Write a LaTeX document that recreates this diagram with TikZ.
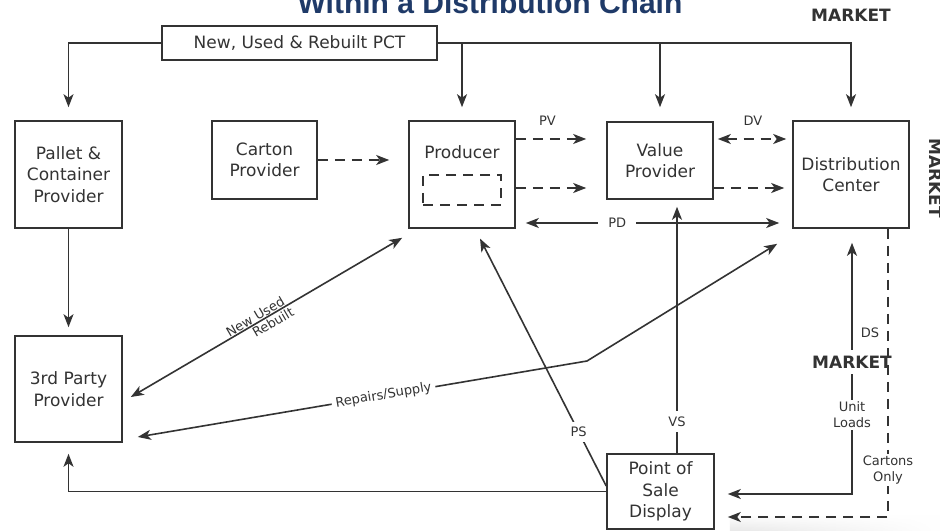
\documentclass[tikz,border=0pt]{standalone}
\usepackage{fontspec}
\setmainfont{DejaVu Sans}
\newfontfamily\titlefont{Liberation Sans}
\usetikzlibrary{arrows.meta,calc,fadings}
\definecolor{ink}{HTML}{333333}
\definecolor{navy}{HTML}{1F3A68}
\begin{document}
\begin{tikzpicture}[x=1bp,y=-1bp,color=ink,line width=1.6bp,
  >={Stealth[length=13bp,width=10bp,inset=3.5bp]},
  box/.style={draw=ink,line width=1.6bp,inner sep=0pt,align=center,
    font=\fontsize{17bp}{21.5bp}\selectfont},
  txt/.style={inner sep=0pt,align=center,font=\fontsize{17bp}{21.5bp}\selectfont},
  lbl/.style={inner sep=2bp,align=center,font=\fontsize{13bp}{16bp}\selectfont},
  mk/.style={inner sep=2bp,font=\bfseries\fontsize{17bp}{20bp}\selectfont},
  dsh/.style={dash pattern=on 10bp off 7bp},
  gap/.style={fill=white}]
\useasboundingbox (0,0) rectangle (940,531);
\fill[white] (0,0) rectangle (940,531);
\shade[top color=white,bottom color=black!9,draw=none,path fading=east] (730,514) rectangle (940,531);

% title (cut by the top edge)
\node[font=\titlefont\bfseries\fontsize{30bp}{30bp}\selectfont,text=navy,anchor=base,inner sep=0pt]
  (title) at (490,14) {Within a Distribution Chain};

% boxes
\node[box,minimum width=275bp,minimum height=34bp] (pct) at (299.5,43) {New, Used \& Rebuilt PCT};
\node[box,minimum width=107bp,minimum height=107bp] (pallet) at (68.5,174.5) {Pallet \&\\Container\\Provider};
\node[box,minimum width=107bp,minimum height=106bp] (third) at (68.5,389) {3rd Party\\Provider};
\node[box,minimum width=105bp,minimum height=78bp] (carton) at (264.5,160) {Carton\\Provider};
\node[box,minimum width=106bp,minimum height=107bp] (producer) at (462,174.5) {};
\node[txt] (prodname) at (462,152) {Producer};
\node[draw=ink,dsh,line width=1.6bp,minimum width=78bp,minimum height=30bp,inner sep=0pt] (slot) at (462,190) {};
\node[box,minimum width=106bp,minimum height=77bp] (value) at (660,160.5) {Value\\Provider};
\node[box,minimum width=116bp,minimum height=107bp] (dc) at (851,174.5) {Distribution\\Center};
\node[box,minimum width=107bp,minimum height=75bp] (pos) at (660.5,491.5) {Point of\\Sale\\Display};

% market labels
\node[mk] (mtop) at (851,15) {MARKET};
\node[mk,rotate=-90] (mright) at (936,178) {MARKET};

% PCT distribution lines
\draw[->,shorten >=13bp] (pct.west) -| (pallet.north);
\draw[->,shorten >=13bp] (pct.east) -| (dc.north);
\draw[->,shorten >=13bp] (pct.east -| producer.north) -- (producer.north);
\draw[->,shorten >=14bp] (pct.east -| value.north) -- (value.north);

\draw[->,shorten >=8bp] (pallet.south) -- (third.north);
\draw[->,dsh,shorten >=19bp] (carton.east) -- (carton.east -| producer.west);

% PV
\draw[->,dsh,shorten >=20bp] ([yshift=35.5bp]producer.east) -- ([yshift=35.5bp]producer.east -| value.west)
  node[lbl,pos=0.35,yshift=18bp] (pvl) {PV};
\draw[->,dsh,shorten >=20bp] ([yshift=-13.5bp]producer.east) -- ([yshift=-13.5bp]producer.east -| value.west);
% DV
\draw[<->,dsh,shorten <=4bp,shorten >=6bp] ([yshift=21.5bp]value.east) -- ([yshift=21.5bp]value.east -| dc.west)
  node[lbl,pos=0.5,yshift=18bp] (dvl) {DV};
\draw[->,dsh,shorten >=8bp] ([yshift=-27.5bp]value.east) -- ([yshift=-27.5bp]value.east -| dc.west);
% PD
\draw[<->,shorten <=10bp,shorten >=13bp] ([yshift=-48.5bp]producer.east) -- ([yshift=-48.5bp]producer.east -| dc.west)
  node[lbl,gap,pos=0.367,inner xsep=10bp] (pdl) {PD};
% VS
\draw[->,shorten >=7bp] ([xshift=16.5bp]pos.north) -- ([xshift=16.5bp]pos.north |- value.south)
  node[lbl,gap,pos=0.125,inner ysep=6bp] (vsl) {VS};
% PS
\draw[->,shorten >=11bp] ([yshift=5.5bp]pos.west) -- ([xshift=13bp]producer.south)
  node[lbl,gap,pos=0.21,inner sep=5bp] (psl) {PS};

% Repairs / Supply
\coordinate (bend) at (587,361);
\draw[<->] ([shift={(-15bp,-15bp)}]dc.south west) -- (bend) -- ([shift={(15bp,-48bp)}]third.east)
  node[lbl,gap,sloped,pos=0.453,inner xsep=4bp] (rsl) {Repairs/Supply};

% New Used Rebuilt
\draw[<->] ([shift={(8bp,-8bp)}]third.east) -- ([shift={(-6bp,-9bp)}]producer.south west)
  node[lbl,sloped,pos=0.47,above,inner sep=0.5bp] (nul) {New Used}
  node[lbl,sloped,pos=0.51,below,inner sep=1.5bp] (rbl) {Rebuilt};

% POS to 3rd party
\draw[->,shorten >=11bp] (pos.west) -| (third.south);

% Unit loads
\draw[<->,shorten <=13bp,shorten >=14bp] ([yshift=-2.5bp]pos.east) -| ([xshift=1bp]dc.south)
  node[lbl,gap,pos=0.649] (ull) {Unit\\Loads}
  node[mk,gap,pos=0.749,inner ysep=6bp] (mmid) {MARKET}
  node[lbl,pos=0.804,xshift=18bp] (dsl) {DS};

% Cartons only
\draw[->,dsh,shorten >=13bp] ([xshift=37bp]dc.south) |- ([yshift=-25.5bp]pos.east)
  node[lbl,gap,pos=0.418] (col) {Cartons\\Only};
\end{tikzpicture}
\end{document}
